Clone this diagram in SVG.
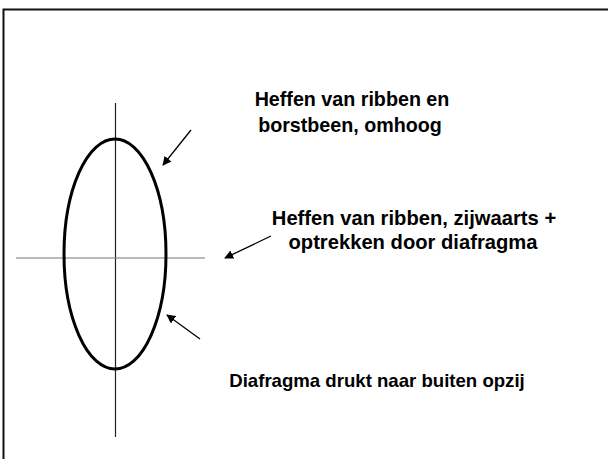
<svg xmlns="http://www.w3.org/2000/svg" width="608" height="459" viewBox="0 0 608 459">
  <defs>
    <marker id="arrow" viewBox="0 0 10 10" refX="9" refY="5" markerWidth="9" markerHeight="9" markerUnits="userSpaceOnUse" orient="auto">
      <path d="M0,0 L10,5 L0,10 z" fill="#000"/>
    </marker>
    <style>
      .label { font-family: "Liberation Sans", Arial, sans-serif; font-weight: bold; font-size: 19px; fill: #000; text-anchor: middle; }
      .axis { stroke-width: 1.2; fill: none; }
      .pointer { stroke: #000; stroke-width: 1.3; fill: none; marker-end: url(#arrow); }
    </style>
  </defs>
  <rect width="608" height="459" fill="#fff"/>
  <!-- frame, open to the right and bottom -->
  <rect x="3.5" y="9.5" width="640" height="480" fill="none" stroke="#111" stroke-width="2"/>

  <g id="axes">
    <line class="axis" x1="115.5" y1="103" x2="115.5" y2="437" stroke="#222"/>
    <line class="axis" x1="16" y1="258" x2="205" y2="258" stroke="#777"/>
  </g>

  <g id="ellipse">
    <ellipse cx="115" cy="254" rx="51" ry="115" fill="none" stroke="#000" stroke-width="3"/>
  </g>

  <g id="connectors">
    <line class="pointer" x1="191" y1="130" x2="163" y2="165"/>
    <line class="pointer" x1="271" y1="236" x2="225" y2="258"/>
    <line class="pointer" x1="200" y1="339" x2="167" y2="315"/>
  </g>

  <g id="label-top" style="font-size:19.7px">
    <text class="label" x="352" y="106" style="font-size:19.7px">Heffen van ribben en</text>
    <text class="label" x="350" y="132" style="font-size:19.7px">borstbeen, omhoog</text>
  </g>
  <g id="label-middle">
    <text class="label" x="414" y="225" style="font-size:20.2px">Heffen van ribben, zijwaarts +</text>
    <text class="label" x="413" y="249" style="font-size:20.2px">optrekken door diafragma</text>
  </g>
  <g id="label-bottom">
    <text class="label" x="377" y="387" style="font-size:18.6px">Diafragma drukt naar buiten opzij</text>
  </g>
</svg>
